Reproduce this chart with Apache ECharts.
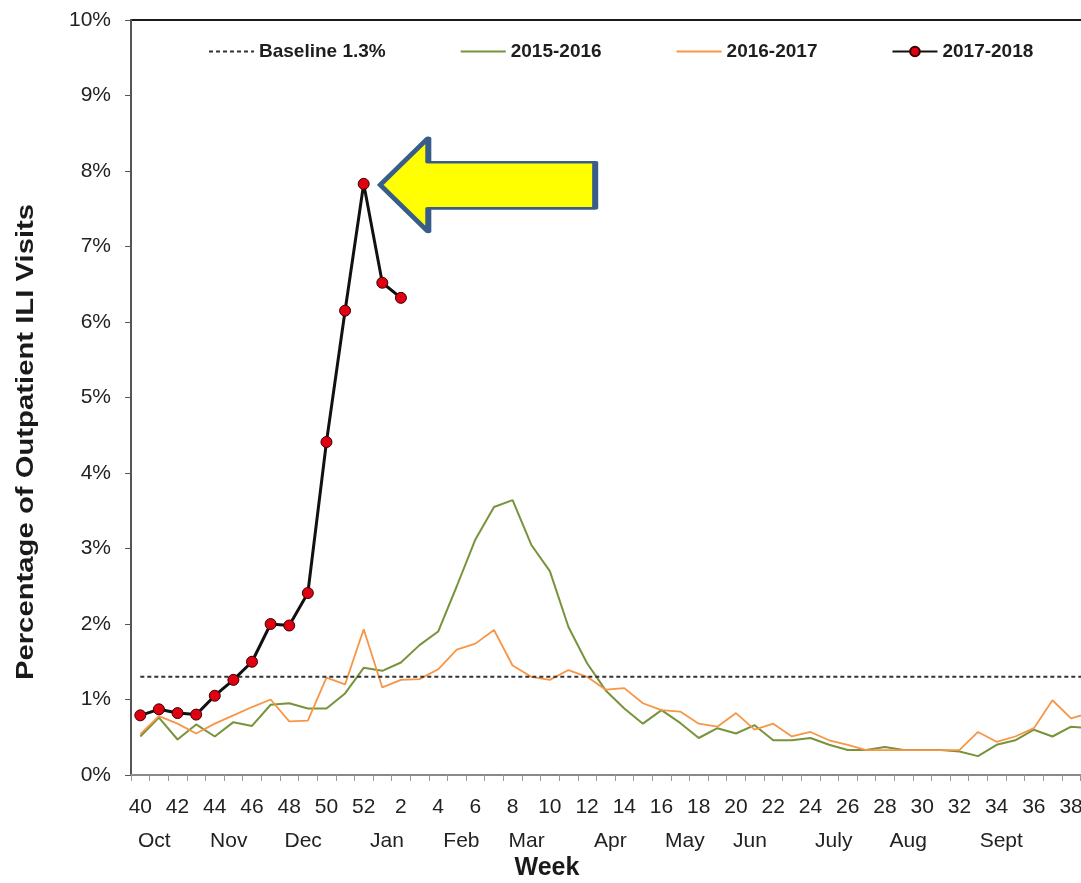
<!DOCTYPE html>
<html>
<head>
<meta charset="utf-8">
<script src="https://cdn.jsdelivr.net/npm/echarts@6/dist/echarts.min.js"></script>
<style>
html,body{margin:0;padding:0;background:#ffffff;}
#chart{width:1081px;height:883px;}
</style>
</head>
<body>
<div id="chart"></div>
<script>
// ---- data ----
const weekLabels = ["40","41","42","43","44","45","46","47","48","49","50","51","52",
  "1","2","3","4","5","6","7","8","9","10","11","12","13","14","15","16","17","18","19","20",
  "21","22","23","24","25","26","27","28","29","30","31","32","33","34","35","36","37","38","39"];

const season2015 = [0.51,0.76,0.47,0.67,0.51,0.70,0.65,0.93,0.95,0.88,0.88,1.08,1.42,
  1.38,1.49,1.72,1.90,2.50,3.12,3.55,3.64,3.05,2.70,1.96,1.48,1.12,0.88,0.68,0.86,0.69,0.49,0.62,0.55,
  0.66,0.46,0.46,0.49,0.40,0.33,0.33,0.37,0.33,0.33,0.33,0.31,0.25,0.40,0.46,0.60,0.51,0.64,0.62];

const season2016 = [0.54,0.78,0.68,0.55,0.68,0.79,0.90,1.00,0.71,0.72,1.29,1.20,1.93,
  1.16,1.26,1.27,1.40,1.66,1.74,1.92,1.45,1.30,1.26,1.39,1.30,1.13,1.15,0.95,0.86,0.84,0.68,0.64,0.82,
  0.60,0.68,0.51,0.57,0.46,0.40,0.33,0.33,0.33,0.33,0.33,0.33,0.57,0.44,0.51,0.62,0.99,0.75,0.82];

const season2017 = [0.79,0.87,0.82,0.80,1.05,1.26,1.50,2.00,1.98,2.41,4.41,6.15,7.83,6.52,6.32];

const baselineValue = 1.3;

const monthNames = ["Oct","Nov","Dec","Jan","Feb","Mar","Apr","May","Jun","July","Aug","Sept"];

const seriesNames = ["Baseline 1.3%","2015-2016","2016-2017","2017-2018"];

const yAxisTitle = "Percentage of Outpatient ILI Visits";
const xAxisTitle = "Week";

// ---- layout helpers ----
const FONT = '"Liberation Sans", Arial, Helvetica, sans-serif';
// month label anchor in half-week slots along the axis
const monthSlot = [2,10,18,27,35,42,51,59,66,75,83,93];
const monthAt = {};
monthSlot.forEach(function (s, i) { monthAt[s] = monthNames[i]; });
const halfSlots = [];
for (let i = 0; i < weekLabels.length * 2; i++) halfSlots.push('s' + i);

const chart = echarts.init(document.getElementById('chart'), null, {renderer: 'canvas'});

const option = {
  animation: false,
  backgroundColor: '#ffffff',
  grid: {
    left: 131, top: 20, right: -18, bottom: 108,
    show: true, borderColor: '#1a1a1a', borderWidth: 2,
    outerBoundsMode: 'none'
  },
  legend: {
    left: 208, top: 42, padding: 0,
    itemWidth: 45, itemHeight: 12, itemGap: 74,
    data: [
      {name: seriesNames[0], itemStyle: {opacity: 0}},
      {name: seriesNames[1], itemStyle: {opacity: 0}},
      {name: seriesNames[2], itemStyle: {opacity: 0}},
      {name: seriesNames[3]}
    ],
    textStyle: {fontFamily: FONT, fontSize: 19, fontWeight: 'bold', color: '#1e1e1e'}
  },
  xAxis: [
    {
      type: 'category', position: 'bottom',
      data: weekLabels, boundaryGap: true,
      axisLine: {lineStyle: {color: '#8a8a8a', width: 2}},
      axisTick: {show: true, interval: 0, length: 6, lineStyle: {color: '#9a9a9a', width: 1}},
      axisLabel: {interval: 1, margin: 22, fontFamily: FONT, fontSize: 21, color: '#222'},
      splitLine: {show: false},
      name: xAxisTitle, nameLocation: 'middle', nameGap: 81, nameMoveOverlap: false,
      nameTextStyle: {fontFamily: FONT, fontSize: 25, fontWeight: 'bold', color: '#1a1a1a', padding: [0, 136, 0, 0]}
    },
    {
      type: 'category', position: 'bottom',
      data: halfSlots, boundaryGap: true,
      axisLine: {show: false}, axisTick: {show: false}, splitLine: {show: false},
      axisLabel: {
        interval: 0, margin: 56, fontFamily: FONT, fontSize: 21, color: '#222',
        formatter: function (v, idx) { return monthAt[idx] || ''; }
      }
    }
  ],
  yAxis: {
    type: 'value', min: 0, max: 10, interval: 1,
    axisLine: {show: true, lineStyle: {color: '#555', width: 2}},
    axisTick: {show: true, length: 6, lineStyle: {color: '#555', width: 1}},
    axisLabel: {margin: 20, fontFamily: FONT, fontSize: 21, color: '#222', formatter: '{value}%'},
    splitLine: {show: false}
  },
  graphic: [
    {
      type: 'text', x: 26, y: 442, rotation: Math.PI / 2, scaleX: 1.22,
      style: {text: yAxisTitle, font: 'bold 24px ' + FONT, fill: '#1a1a1a', align: 'center', verticalAlign: 'middle'}
    }
  ],
  series: [
    {
      name: seriesNames[1], type: 'line', data: season2015, symbol: 'none', z: 2,
      lineStyle: {color: '#77933C', width: 2}, itemStyle: {color: '#77933C'}
    },
    {
      name: seriesNames[2], type: 'line', data: season2016, symbol: 'none', z: 3,
      lineStyle: {color: '#F79646', width: 1.8}, itemStyle: {color: '#F79646'}
    },
    {
      name: seriesNames[0], type: 'line', data: weekLabels.map(function () { return baselineValue; }),
      symbol: 'none', z: 4,
      lineStyle: {color: '#333', width: 2, type: [4, 3]}, itemStyle: {color: '#333'}
    },
    {
      name: seriesNames[3], type: 'line', data: season2017, z: 5,
      symbol: 'circle', symbolSize: 11, showAllSymbol: true,
      lineStyle: {color: '#111', width: 3},
      itemStyle: {color: '#E00012', borderColor: '#3a0000', borderWidth: 1},
      markPoint: {
        silent: true,
        symbol: 'path://M0,49 L49,0 L49,25.5 L219,25.5 L219,73.5 L49,73.5 L49,98 Z',
        symbolSize: [215, 94],
        symbolOffset: [124, 1],
        label: {show: false},
        itemStyle: {color: '#FFFF00', borderColor: '#385D8A', borderWidth: 4, borderJoin: 'round'},
        data: [{type: 'max'}]
      }
    }
  ]
};
chart.setOption(option);
</script>
</body>
</html>
